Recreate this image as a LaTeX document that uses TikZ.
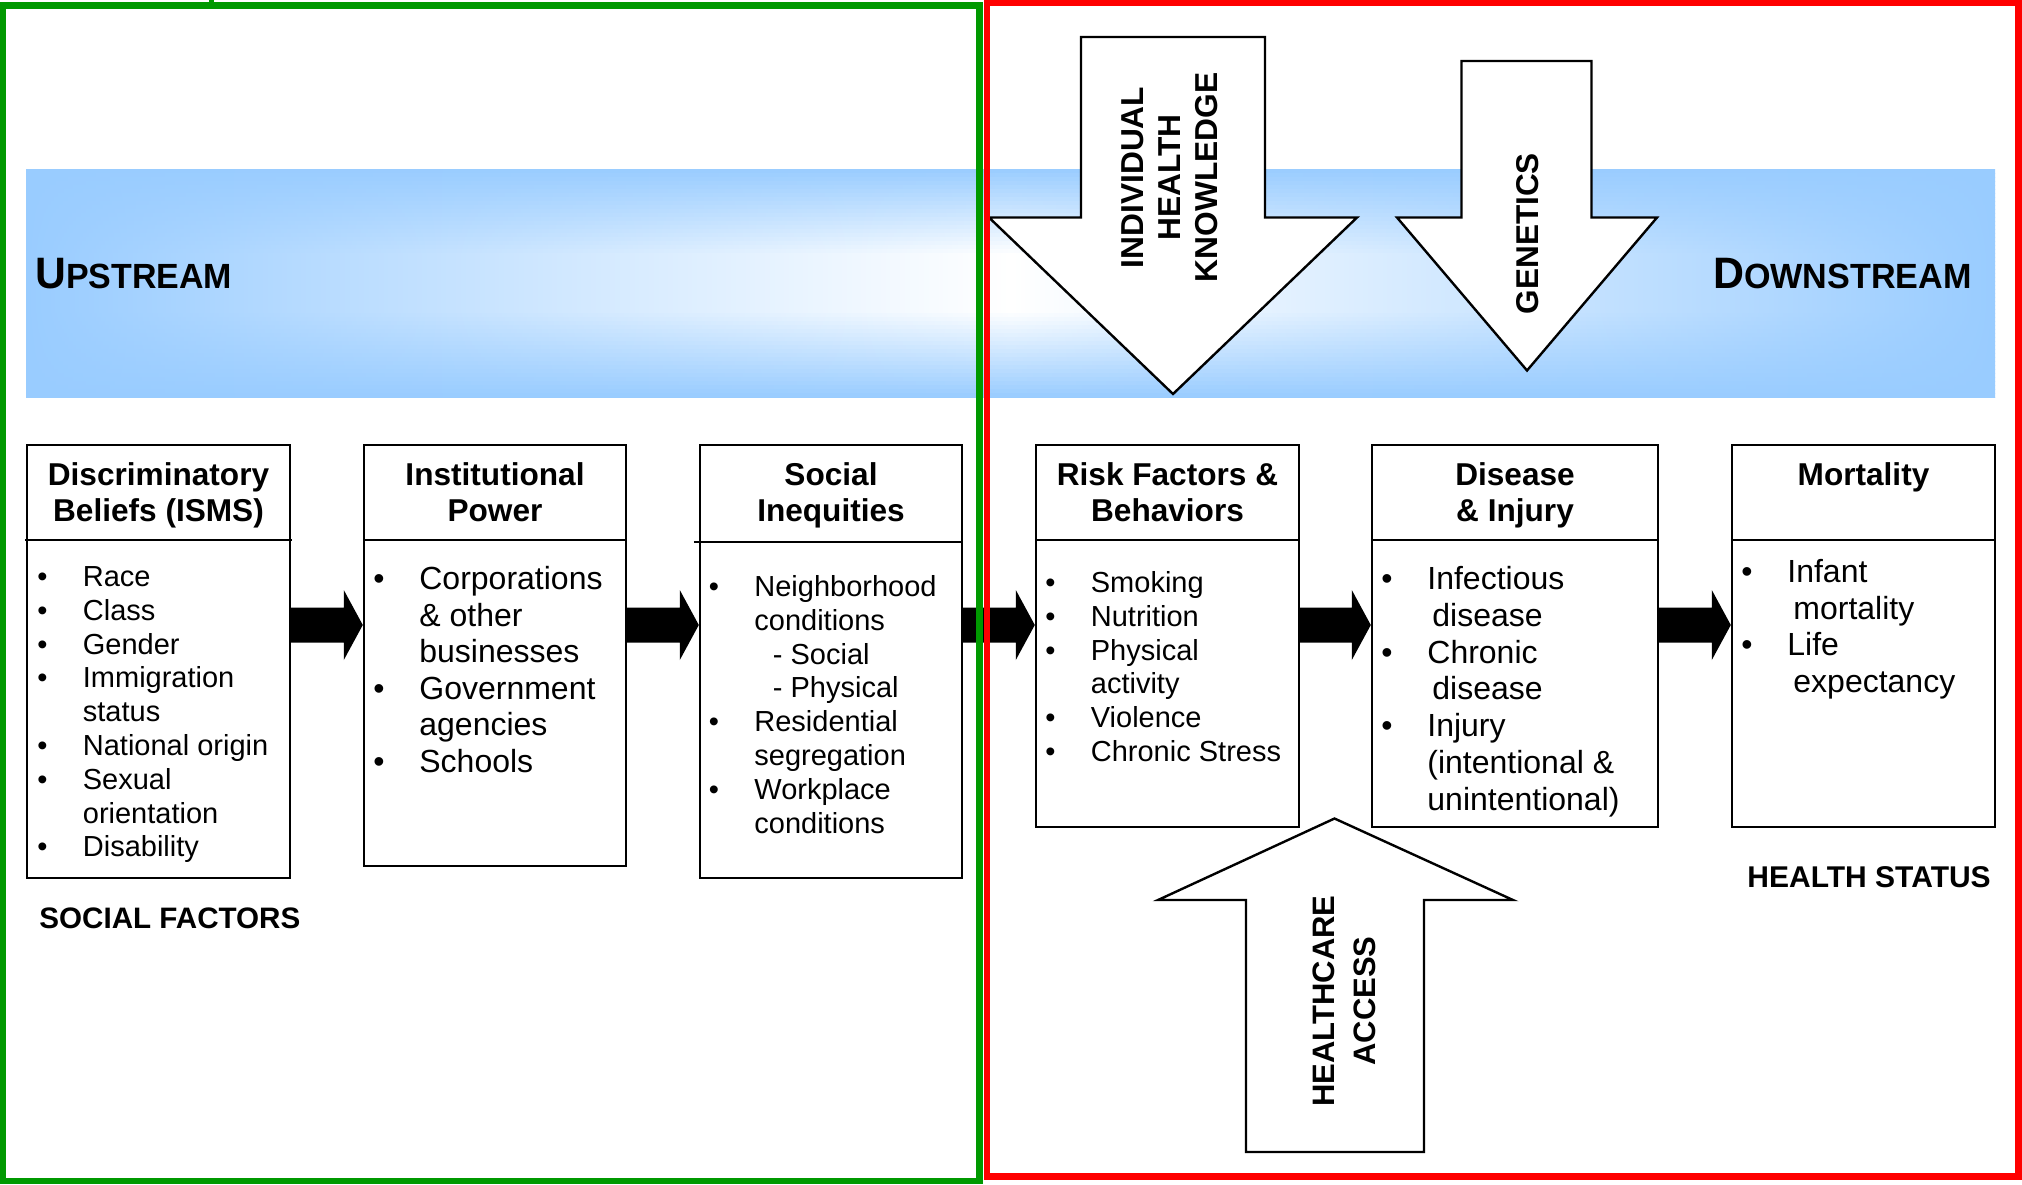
\documentclass[tikz,border=0pt]{standalone}
\usepackage{fontspec}
\setmainfont{Liberation Sans}
\usepackage{graphicx}
\usetikzlibrary{calc}
\definecolor{bandblue}{RGB}{153,204,255}
\definecolor{framegreen}{RGB}{0,153,0}
\definecolor{framered}{RGB}{255,0,0}
\newcommand\myfs[2]{\fontsize{#1}{#2}\selectfont}
\newcommand\bulline[1]{\makebox[20.25pt][l]{\makebox[0pt]{\textbullet}}#1}
\newcommand\contline[1]{\hspace*{20.25pt}#1}
\newcommand\tstr[1]{\rule{0pt}{#1}}
\newcommand\blockconn[2]{%
  \fill let \p1=(#1.east|-ay), \p2=(#2.west|-ay) in
    (\x1,{\y1+8.75pt}) -- ({\x2-9.5pt},{\y1+8.75pt}) -- ({\x2-9.5pt},{\y1+17.5pt})
    -- (\x2,\y1) -- ({\x2-9.5pt},{\y1-17.5pt}) -- ({\x2-9.5pt},{\y1-8.75pt})
    -- (\x1,{\y1-8.75pt}) -- cycle;}
\tikzset{
  box/.style={draw=black, line width=1.2pt, rectangle, inner sep=0pt},
  head/.style={anchor=north, align=center, inner sep=0pt, font=\myfs{15.8}{18}\bfseries},
  bodysmall/.style={anchor=north west, align=left, inner sep=0pt, font=\myfs{14.5}{16.9}},
  bodylarge/.style={anchor=north west, align=left, inner sep=0pt, font=\myfs{16}{18.3}},
  bigarrow/.style={draw=black, fill=white, line width=1.2pt, line join=miter},
  arrowtext/.style={inner sep=0pt, align=center, rotate=90},
  streamlabel/.style={inner sep=0pt, font=\bfseries},
  caption/.style={anchor=base west, inner sep=0pt, font=\myfs{14.8}{16}\bfseries},
  framegreenline/.style={draw=framegreen, line width=3.4pt},
  frameredline/.style={draw=framered, line width=3.4pt}
}
\begin{document}
\begin{tikzpicture}[x=0.5pt, y=-0.5pt]
\useasboundingbox (0,0) rectangle (2022,1184);
\fill[white] (0,0) rectangle (2022,1184);

% gradient band
\begin{scope}
  \clip (26,169) rectangle (1995,397);
  \foreach \i in {0,...,57} {
    \pgfmathsetmacro\ya{169+4*\i}
    \pgfmathsetmacro\yb{\ya+4.8}
    \pgfmathsetmacro\dy{abs(\ya+2-283)}
    \pgfmathsetmacro\pct{100*min(1,max(0,(\dy-28)/86))}
    \shade[left color=bandblue, right color=bandblue, middle color=bandblue!\pct!white]
      (26,\ya) rectangle (1995,\yb);
  }
\end{scope}

\node[streamlabel, anchor=base west] (up) at (35,288.3)
  {\scalebox{0.97}[1]{\myfs{22}{22}U\myfs{17.5}{17.5}PSTREAM}};
\node[streamlabel, anchor=base east] (down) at (1972,288.3)
  {\scalebox{0.975}[1]{\myfs{22}{22}D\myfs{17.5}{17.5}OWNSTREAM}};

% boxes
\coordinate (ay) at (0,625);
\node[box, minimum width=131.5pt, minimum height=216.5pt] (b1) at (158.5,661.5) {};
\node[box, minimum width=131pt, minimum height=210.5pt] (b2) at (495,655.5) {};
\node[box, minimum width=131pt, minimum height=216.5pt] (b3) at (831,661.5) {};
\node[box, minimum width=131.5pt, minimum height=191pt] (b4) at (1167.5,636) {};
\node[box, minimum width=143pt, minimum height=191pt] (b5) at (1515,636) {};
\node[box, minimum width=131.5pt, minimum height=191pt] (b6) at (1863.5,636) {};

% block connectors
\blockconn{b1}{b2}
\blockconn{b2}{b3}
\blockconn{b3}{b4}
\blockconn{b4}{b5}
\blockconn{b5}{b6}

% header dividers
\draw[line width=1.2pt] ([xshift=-0.5pt,yshift=-48pt]b1.north west) -- ([xshift=0.5pt,yshift=-48pt]b1.north east);
\draw[line width=1.2pt] ([yshift=-48pt]b2.north west) -- ([yshift=-48pt]b2.north east);
\draw[line width=1.2pt] ([xshift=-2.5pt,yshift=-49pt]b3.north west) -- ([yshift=-49pt]b3.north east);
\draw[line width=1.2pt] ([yshift=-48pt]b4.north west) -- ([yshift=-48pt]b4.north east);
\draw[line width=1.2pt] ([yshift=-48pt]b5.north west) -- ([yshift=-48pt]b5.north east);
\draw[line width=1.2pt] ([yshift=-48pt]b6.north west) -- ([yshift=-48pt]b6.north east);

% headers
\node[head] (h1) at (158.5,456.6) {\tstr{14.22pt}Discriminatory\\Beliefs (ISMS)};
\node[head] (h2) at (495,456.6) {\tstr{14.22pt}Institutional\\Power};
\node[head] (h3) at (831,456.6) {\tstr{14.22pt}Social\\Inequities};
\node[head] (h4) at (1167.5,456.6) {\tstr{14.22pt}Risk Factors \&\\Behaviors};
\node[head] (h5) at (1515,456.6) {\tstr{14.22pt}Disease\\\& Injury};
\node[head] (h6) at (1863.5,456.6) {\tstr{14.22pt}Mortality};

% bodies
\node[bodysmall] (t1) at (42,559.9) {\tstr{13.05pt}\bulline{Race}\\
  \bulline{Class}\\
  \bulline{Gender}\\
  \bulline{Immigration}\\
  \contline{status}\\
  \bulline{National origin}\\
  \bulline{Sexual}\\
  \contline{orientation}\\
  \bulline{Disability}};
\node[bodylarge] (t2) at (378.5,560.2) {\tstr{14.4pt}\bulline{Corporations}\\
  \contline{\& other}\\
  \contline{businesses}\\
  \bulline{Government}\\
  \contline{agencies}\\
  \bulline{Schools}};
\node[bodysmall] (t3) at (713.5,569.9) {\tstr{13.05pt}\bulline{Neighborhood}\\
  \contline{conditions}\\
  \contline{\hspace*{9.25pt}- Social}\\
  \contline{\hspace*{9.25pt}- Physical}\\
  \bulline{Residential}\\
  \contline{segregation}\\
  \bulline{Workplace}\\
  \contline{conditions}};
\node[bodysmall] (t4) at (1050,565.9) {\tstr{13.05pt}\bulline{Smoking}\\
  \bulline{Nutrition}\\
  \bulline{Physical}\\
  \contline{activity}\\
  \bulline{Violence}\\
  \bulline{Chronic Stress}};
\node[bodylarge, font=\myfs{16}{18.4}] (t5) at (1386.5,560.2) {\tstr{14.4pt}\bulline{Infectious}\\
  \contline{\hspace*{2.5pt}disease}\\
  \bulline{Chronic}\\
  \contline{\hspace*{2.5pt}disease}\\
  \bulline{Injury}\\
  \contline{(intentional \&}\\
  \contline{unintentional)}};
\node[bodylarge] (t6) at (1746.5,553.2) {\tstr{14.4pt}\bulline{Infant}\\
  \contline{\hspace*{3pt}mortality}\\
  \bulline{Life}\\
  \contline{\hspace*{3pt}expectancy}};

\node[caption] (sf) at (39,928) {SOCIAL FACTORS};
\node[caption, font=\myfs{15}{16}\bfseries] (hs) at (1747,887) {HEALTH STATUS};

% big white arrows
\draw[bigarrow] (1081,37) -- (1265,37) -- (1265,217.5) -- (1357,217.5) -- (1173,394)
  -- (989,217.5) -- (1081,217.5) -- cycle;
\draw[bigarrow] (1461.5,61) -- (1591.5,61) -- (1591.5,217.5) -- (1657,217.5) -- (1527,370.5)
  -- (1397,217.5) -- (1461.5,217.5) -- cycle;
\draw[bigarrow] (1246,1152) -- (1424,1152) -- (1424,900) -- (1513,900) -- (1334.5,818.5)
  -- (1158,900) -- (1246,900) -- cycle;

\node[arrowtext, font=\myfs{15.85}{18.5}\bfseries] (ihk) at (1169.5,177.5)
  {INDIVIDUAL\\HEALTH\\KNOWLEDGE};
\node[arrowtext, font=\myfs{15.75}{18}\bfseries] (gen) at (1527.5,233.5) {GENETICS};
\node[arrowtext, font=\myfs{15.5}{20.5}\bfseries] (hca) at (1344,1001)
  {HEALTHCARE\\ACCESS};

% frames
\draw[framegreenline] (3,5.5) rectangle (979.5,1181);
\fill[framegreen] (209,0) rectangle (214,4);
\draw[frameredline] (987,2.5) rectangle (2018.5,1176.5);
\end{tikzpicture}
\end{document}
